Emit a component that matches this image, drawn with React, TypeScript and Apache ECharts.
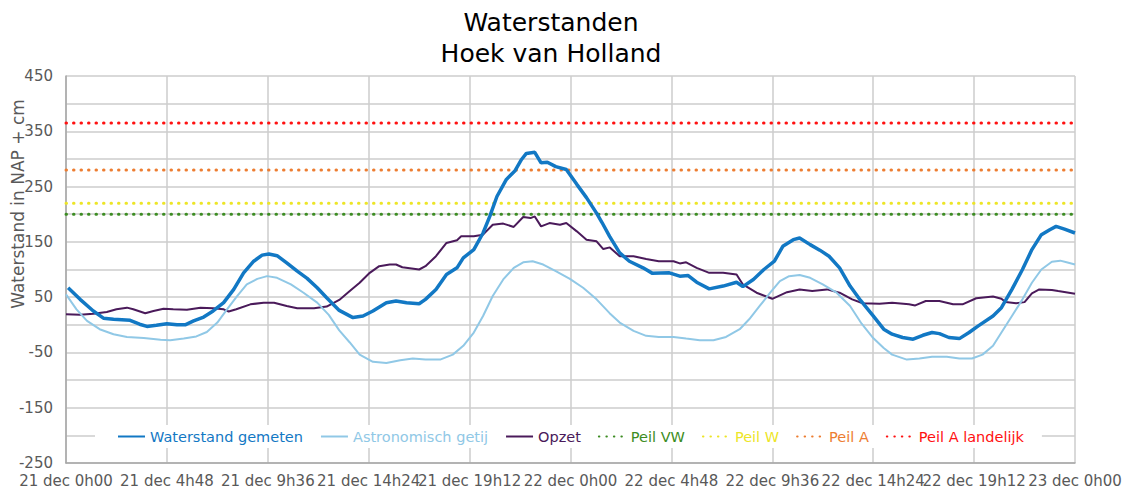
import React, { useEffect, useRef } from "react";
import * as echarts from "echarts";

const titleLines = ["Waterstanden", "Hoek van Holland"];
const yAxisTitle = "Waterstand in NAP + cm";
const seriesNames = ["Waterstand gemeten", "Astronomisch getij", "Opzet", "Peil VW", "Peil W", "Peil A", "Peil A landelijk"];

// [hours since 21 dec 0h00, cm]
const gemeten: number[][] = [
  [0.1, 67], [0.67, 46], [1.3, 25], [1.78, 12], [2.26, 10], [3.05, 8], [3.5, 1], [3.85, -3], [4.3, -1], [4.8, 2],
  [5.28, 0], [5.67, 0], [6.07, 7], [6.55, 14], [7.0, 25], [7.5, 40], [7.98, 64], [8.45, 94], [8.93, 115], [9.33, 126],
  [9.65, 128], [10.04, 125], [10.5, 112], [11.0, 97], [11.47, 84], [11.95, 67], [12.4, 49], [13.0, 26], [13.65, 13],
  [14.13, 16], [14.6, 25], [15.24, 40], [15.7, 43], [16.2, 40], [16.8, 38], [17.1, 46], [17.6, 64], [18.1, 91],
  [18.6, 103], [18.9, 121], [19.4, 136], [19.84, 166], [20.16, 196], [20.5, 232], [20.95, 263], [21.35, 278],
  [21.67, 299], [21.9, 310], [22.3, 312], [22.6, 293], [22.9, 294], [23.3, 286], [23.8, 281], [24.3, 254],
  [24.76, 230], [25.24, 202], [25.5, 185], [25.86, 160], [26.34, 130], [26.8, 115], [27.45, 103], [27.9, 93],
  [28.7, 94], [29.2, 88], [29.6, 89], [30.0, 77], [30.6, 65], [31.26, 70], [31.9, 77], [32.2, 69], [32.7, 82],
  [33.2, 100], [33.7, 115], [34.1, 142], [34.6, 154], [34.9, 157], [35.4, 145], [35.86, 135], [36.3, 124],
  [36.8, 103], [37.3, 70], [37.8, 44], [38.4, 16], [38.9, -8], [39.3, -17], [39.8, -23], [40.3, -26], [40.76, -19],
  [41.2, -14], [41.55, -16], [42.0, -23], [42.5, -25], [42.96, -14], [43.4, -2], [44.1, 16], [44.5, 31], [45.0, 64],
  [45.5, 100], [45.95, 136], [46.4, 163], [46.8, 172], [47.1, 178], [47.5, 173], [48, 166],
];

const astronomisch: number[][] = [
  [0, 55], [0.5, 28], [1.0, 7], [1.6, -8], [2.26, -17], [2.9, -22], [3.7, -24], [4.5, -27], [4.96, -28], [5.6, -25],
  [6.2, -21], [6.7, -13], [7.2, 4], [7.66, 28], [8.14, 52], [8.6, 73], [9.1, 83], [9.57, 88], [10.04, 85], [10.7, 73],
  [11.3, 58], [11.95, 40], [12.5, 18], [13.0, -10], [13.5, -32], [13.97, -54], [14.6, -67], [15.24, -69], [15.9, -64],
  [16.5, -61], [17.1, -63], [17.8, -63], [18.4, -54], [18.9, -38], [19.4, -14], [19.84, 16], [20.3, 52], [20.8, 82],
  [21.3, 103], [21.75, 113], [22.2, 115], [22.7, 109], [23.3, 97], [23.97, 83], [24.6, 67], [25.24, 46], [25.86, 21],
  [26.34, 4], [27.0, -11], [27.6, -20], [28.2, -22], [28.9, -22], [29.5, -25], [30.15, -28], [30.8, -28], [31.4, -22],
  [32.05, -8], [32.5, 10], [33.0, 34], [33.5, 58], [33.96, 79], [34.4, 88], [34.9, 90], [35.4, 85], [36.0, 73],
  [36.66, 58], [37.3, 34], [37.85, 2], [38.4, -24], [38.9, -42], [39.3, -54], [40.0, -63], [40.6, -61], [41.2, -58],
  [41.9, -58], [42.5, -61], [43.1, -61], [43.6, -54], [44.1, -38], [44.5, -14], [45.0, 16], [45.5, 46], [45.95, 76],
  [46.4, 100], [46.9, 114], [47.3, 116], [47.6, 113], [48, 109],
];

const opzet: number[][] = [
  [0, 19], [0.67, 18], [1.3, 20], [1.94, 23], [2.4, 28], [2.9, 31], [3.2, 28], [3.77, 21], [4.16, 25], [4.64, 29],
  [5.1, 28], [5.75, 27], [6.4, 31], [7.0, 30], [7.5, 28], [7.74, 24], [8.1, 28], [8.77, 37], [9.4, 40], [9.9, 40],
  [10.5, 34], [11.0, 30], [11.8, 30], [12.4, 33], [13.0, 45], [13.5, 61], [13.97, 76], [14.45, 94], [14.9, 106],
  [15.4, 109], [15.7, 109], [16.0, 104], [16.8, 100], [17.1, 106], [17.6, 124], [18.1, 148], [18.6, 153], [18.8, 160],
  [19.4, 160], [19.84, 163], [20.3, 181], [20.8, 183], [21.3, 177], [21.75, 195], [22.1, 193], [22.3, 196],
  [22.6, 178], [23.0, 184], [23.5, 181], [23.8, 184], [24.3, 169], [24.76, 154], [25.24, 151], [25.56, 137],
  [25.87, 140], [26.34, 124], [27.0, 124], [27.6, 119], [28.2, 115], [28.9, 115], [29.2, 111], [29.5, 113],
  [30.0, 103], [30.6, 94], [31.26, 94], [31.9, 91], [32.2, 73], [32.85, 58], [33.6, 47], [34.3, 59], [34.9, 64],
  [35.5, 61], [36.2, 64], [36.8, 58], [37.4, 46], [37.9, 39], [38.7, 38], [39.3, 40], [40.1, 37], [40.4, 35],
  [40.9, 43], [41.55, 43], [42.2, 37], [42.65, 37], [43.3, 48], [44.1, 51], [44.5, 47], [44.7, 41], [45.2, 39],
  [45.6, 41], [45.95, 57], [46.3, 64], [46.9, 63], [47.2, 61], [48, 56],
];

const peilLevels = [200, 220, 280, 365]; // Peil VW, Peil W, Peil A, Peil A landelijk
const xRange = [0, 48];
const yRange = [-250, 450];

const colors = ["#1278C4", "#90C8E6", "#4A1A5A", "#3C8C22", "#EDE526", "#ED7D31", "#FF1111"];
const FONT = "DejaVu Sans";

function fmtTime(v: number): string {
  const totalMin = Math.round(v * 60);
  const day = 21 + Math.floor(totalMin / 1440);
  const rem = totalMin % 1440;
  const h = Math.floor(rem / 60);
  const m = rem % 60;
  return `${day} dec ${h}h${m < 10 ? "0" + m : m}`;
}

export default function App() {
  const ref = useRef<HTMLDivElement>(null);
  useEffect(() => {
    if (!ref.current) return;
    const chart = echarts.init(ref.current, undefined, { renderer: "svg" });
    const lineSeries = [gemeten, astronomisch, opzet].map((d, i) => ({
      name: seriesNames[i],
      type: "line",
      data: d,
      showSymbol: false,
      symbol: "none",
      smooth: false,
      z: 10 - i,
      lineStyle: { color: colors[i], width: i === 0 ? 3.5 : 2 },
      itemStyle: { color: colors[i] },
    }));
    const peilSeries = peilLevels.map((lv, i) => ({
      name: seriesNames[3 + i],
      type: "line",
      data: [[xRange[0], lv], [xRange[1], lv]],
      showSymbol: false,
      symbol: "none",
      z: 3,
      lineStyle: { color: colors[3 + i], width: 3, type: [0.5, 7], cap: "round" },
      itemStyle: { color: colors[3 + i] },
    }));
    chart.setOption({
      animation: false,
      textStyle: { fontFamily: FONT },
      grid: { left: 66, right: 51, top: 76, bottom: 31 },
      graphic: [
        {
          type: "text",
          x: 551,
          y: 7,
          style: {
            text: titleLines.join("\n"),
            fontFamily: FONT,
            fontSize: 25,
            lineHeight: 31,
            fill: "#000",
            textAlign: "center",
            textVerticalAlign: "top",
          },
        },
        {
          type: "text",
          x: 18,
          y: 204,
          rotation: Math.PI / 2,
          style: {
            text: yAxisTitle,
            fontFamily: FONT,
            fontSize: 17,
            fill: "#595959",
            textAlign: "center",
            textVerticalAlign: "middle",
          },
        },
      ],
      legend: {
        left: 95,
        top: 425,
        width: 990,
        backgroundColor: "#fff",
        padding: [4, 18, 4, 22],
        itemWidth: 27,
        itemHeight: 10,
        itemGap: 17,
        itemStyle: { opacity: 0 },
        data: seriesNames.map((n, i) => ({ name: n, textStyle: { color: colors[i] } })),
        textStyle: { fontFamily: FONT, fontSize: 14.5 },
      },
      xAxis: {
        type: "value",
        min: xRange[0],
        max: xRange[1],
        interval: 4.8,
        axisLine: { show: true, onZero: false, lineStyle: { color: "#A6A6A6", width: 1.5 } },
        axisTick: { show: false },
        splitLine: { show: true, lineStyle: { color: "#CCCCCC", width: 1.5 } },
        axisLabel: {
          formatter: (v: number) => fmtTime(v),
          color: "#595959",
          fontSize: 15,
          fontFamily: FONT,
          margin: 10,
          hideOverlap: false,
          showMinLabel: true,
          showMaxLabel: true,
        },
      },
      yAxis: {
        type: "value",
        min: yRange[0],
        max: yRange[1],
        interval: 50,
        axisLine: { show: true, lineStyle: { color: "#A6A6A6", width: 1.5 } },
        axisTick: { show: false },
        splitLine: { show: true, lineStyle: { color: "#CCCCCC", width: 1.5 } },
        axisLabel: {
          formatter: (v: number) => (((v - yRange[0]) % 100 === 0) ? String(v) : ""),
          color: "#595959",
          fontSize: 15,
          fontFamily: FONT,
          margin: 13,
        },
      },
      series: [...lineSeries, ...peilSeries],
    });
    return () => chart.dispose();
  }, []);
  return (
    <div
      ref={ref}
      style={{ position: "fixed", left: 0, top: 0, width: 1126, height: 494, background: "#fff" }}
    />
  );
}
